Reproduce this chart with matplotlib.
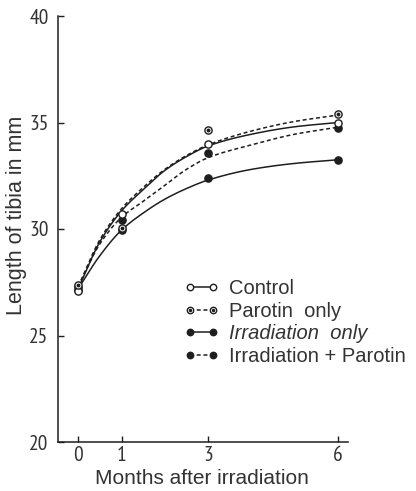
import numpy as np
import matplotlib
matplotlib.use("Agg")
import matplotlib.pyplot as plt
from matplotlib.lines import Line2D

# ---- data ----
months_ticks = [0, 1, 3, 6]
y_ticks = [20, 25, 30, 35, 40]

# measured points
pt_months = [0, 1, 3, 6]
control_pts = [27.1, 30.7, 34.0, 35.0]
parotin_pts = [27.35, 30.05, 34.65, 35.4]
irrad_pts = [27.15, 29.95, 32.4, 33.25]
irrpar_pts = [27.3, 30.4, 33.55, 34.75]

# fitted curves as drawn in the figure (read at these months)
curve_months = [0, 0.5, 1, 1.5, 2, 2.5, 3, 4, 5, 6]
control_curve = [27.2, 29.4, 30.85, 31.85, 32.75, 33.4, 33.9, 34.45, 34.8, 35.0]
parotin_curve = [27.3, 29.5, 30.95, 31.95, 32.8, 33.45, 33.95, 34.6, 35.05, 35.35]
irrpar_curve = [27.3, 29.3, 30.55, 31.3, 32.05, 32.8, 33.35, 33.95, 34.45, 34.78]
irrad_curve = [27.2, 28.75, 29.95, 30.75, 31.4, 31.9, 32.3, 32.8, 33.08, 33.25]

labels = ["Control", "Parotin  only", "Irradiation  only", "Irradiation + Parotin"]


def smooth(xk, yk, n=200):
    """Monotone cubic Hermite rendering through the read curve values."""
    xk = np.asarray(xk, float)
    yk = np.asarray(yk, float)
    h = np.diff(xk)
    d = np.diff(yk) / h
    m = np.zeros_like(yk)
    m[0], m[-1] = d[0], d[-1]
    for i in range(1, len(xk) - 1):
        if d[i - 1] * d[i] <= 0:
            m[i] = 0
        else:
            w1 = 2 * h[i] + h[i - 1]
            w2 = h[i] + 2 * h[i - 1]
            m[i] = (w1 + w2) / (w1 / d[i - 1] + w2 / d[i])
    xs = np.linspace(xk[0], xk[-1], n)
    idx = np.clip(np.searchsorted(xk, xs) - 1, 0, len(xk) - 2)
    t = (xs - xk[idx]) / h[idx]
    h00 = 2 * t**3 - 3 * t**2 + 1
    h10 = t**3 - 2 * t**2 + t
    h01 = -2 * t**3 + 3 * t**2
    h11 = t**3 - t**2
    ys = h00 * yk[idx] + h10 * h[idx] * m[idx] + h01 * yk[idx + 1] + h11 * h[idx] * m[idx + 1]
    return xs, ys


ink = "#1e1e1e"
txtc = "#333333"
plt.rcParams['font.family'] = ['Liberation Sans', 'DejaVu Sans']

fig = plt.figure(figsize=(4.16, 4.91), dpi=100)
ax = fig.add_axes([58.3 / 416, 1 - 442 / 491, (348 - 58.3) / 416, (442 - 16) / 491])

dash = (0, (2.6, 1.8))
lw = 1.1

for cm, st in [(control_curve, '-'), (parotin_curve, dash), (irrpar_curve, dash), (irrad_curve, '-')]:
    xs, ys = smooth(curve_months, cm)
    ax.plot(xs, ys, color=ink, lw=lw, linestyle=st, zorder=2)

ms = 5.2
ax.plot(pt_months, control_pts, 'o', ms=ms, mfc='white', mec=ink, mew=1.0, zorder=4, ls='none')
ax.plot(pt_months, parotin_pts, 'o', ms=ms, mfc='white', mec=ink, mew=1.0, zorder=4, ls='none')
ax.plot(pt_months, parotin_pts, 'o', ms=1.8, mfc=ink, mec=ink, zorder=5, ls='none')
ax.plot(pt_months, irrad_pts, 'o', ms=ms, mfc=ink, mec=ink, zorder=3, ls='none')
ax.plot(pt_months, irrpar_pts, 'o', ms=ms, mfc=ink, mec=ink, zorder=3, ls='none')

ax.set_xlim(-0.46, 6.23)
ax.set_ylim(20, 40)
ax.set_xticks(months_ticks)
ax.set_yticks(y_ticks)
ax.spines['top'].set_visible(False)
ax.spines['right'].set_visible(False)
for s in ['left', 'bottom']:
    ax.spines[s].set_color(ink)
    ax.spines[s].set_linewidth(1.1)
ax.tick_params(direction='in', length=4, width=1.0, color=ink, labelcolor=txtc)
ax.tick_params(axis='y', pad=7)
ax.tick_params(axis='x', pad=3)
tfont = dict(family=['PT Sans Narrow', 'Archivo Narrow', 'Roboto Condensed',
                     'Liberation Sans Narrow', 'Liberation Sans'], size=15.5)
ax.set_xticklabels([str(v) for v in months_ticks], **tfont)
ax.set_yticklabels([str(v) for v in y_ticks], **tfont)

fig.text(202 / 416, 1 - 479 / 491, "Months after irradiation", ha='center', va='center',
         fontsize=15, color=txtc)
fig.text(17 / 416, 1 - 215 / 491, "Length of tibia in mm", ha='center', va='center',
         rotation=90, fontsize=15.5, color=txtc)

hms = 4.6
h1 = Line2D([], [], color=ink, lw=lw, ls='-', marker='o', ms=hms, mfc='white', mec=ink)
h2a = Line2D([], [], color=ink, lw=lw, ls=dash, marker='o', ms=hms, mfc='white', mec=ink)
h2b = Line2D([], [], color=ink, lw=0, marker='o', ms=1.5, mfc=ink, mec=ink)
h3 = Line2D([], [], color=ink, lw=lw, ls='-', marker='o', ms=hms, mfc=ink, mec=ink)
h4 = Line2D([], [], color=ink, lw=lw, ls=dash, marker='o', ms=hms, mfc=ink, mec=ink)
leg = ax.legend([h1, (h2a, h2b), h3, h4], labels, loc='upper left',
                bbox_to_anchor=(184 / 416, 1 - 279 / 491), bbox_transform=fig.transFigure,
                frameon=False, numpoints=2, handlelength=1.75, handletextpad=0.5,
                labelspacing=0.18, borderpad=0, borderaxespad=0,
                prop=dict(size=14.5))
for i, t in enumerate(leg.get_texts()):
    t.set_color(txtc)
    if i == 2:
        t.set_fontstyle('italic')

fig.savefig("out.png", dpi=100)
